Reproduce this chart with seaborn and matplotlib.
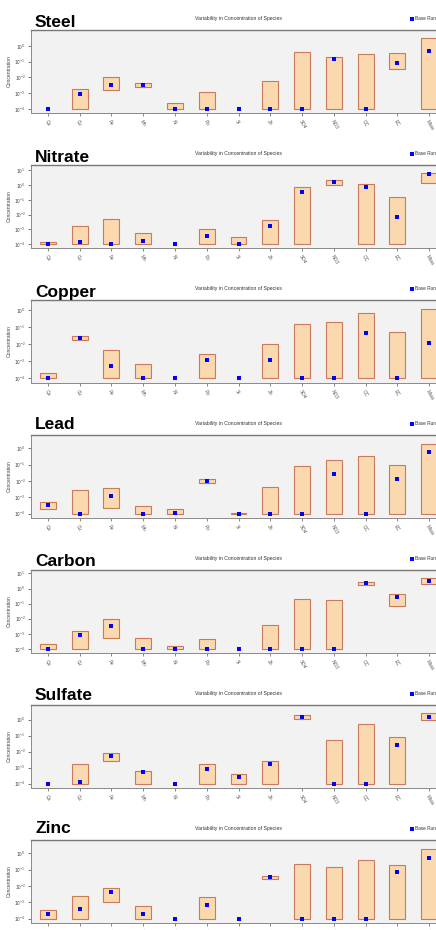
import numpy as np
import pandas as pd
import matplotlib
matplotlib.use("Agg")
import matplotlib.pyplot as plt
from matplotlib.lines import Line2D
import seaborn as sns

species = ["Ca", "Cu", "Fe", "Mn", "Ni", "Pb", "Si", "Zn", "SO4", "NO3", "OC", "EC", "Mass"]
sources = ["Steel", "Nitrate", "Copper", "Lead", "Carbon", "Sulfate", "Zinc"]

steel_min  = [1e-4, 1e-4, 1.6e-3, 2.6e-3, 1e-4, 1e-4, 1e-4, 1e-4, 1e-4, 1e-4, 1e-4, 3.3e-2, 1e-4]
steel_max  = [1e-4, 1.9e-3, 1.0e-2, 4.4e-3, 2.5e-4, 1.15e-3, 1e-4, 6.0e-3, 0.40, 0.20, 0.30, 0.38, 3.1]
steel_base = [1e-4, 9.3e-4, 3.2e-3, 3.2e-3, 1e-4, 1e-4, 1e-4, 1e-4, 1e-4, 0.145, 1e-4, 0.079, 0.50]

nitrate_min  = [1e-4, 1e-4, 1e-4, 1e-4, 1e-4, 1e-4, 1e-4, 1e-4, 1e-4, 1.1, 1e-4, 1e-4, 1.35]
nitrate_max  = [1.3e-4, 1.7e-3, 4.9e-3, 5.9e-4, 1e-4, 1.07e-3, 2.9e-4, 4.2e-3, 0.79, 2.2, 1.23, 0.148, 6.9]
nitrate_base = [1e-4, 1.3e-4, 1e-4, 1.6e-4, 1e-4, 3.5e-4, 1e-4, 1.7e-3, 0.36, 1.6, 0.76, 7.4e-3, 5.6]

copper_min  = [1e-4, 1.74e-2, 1e-4, 1e-4, 1e-4, 1e-4, 1e-4, 1e-4, 1e-4, 1e-4, 1e-4, 1e-4, 1e-4]
copper_max  = [2.0e-4, 3.0e-2, 4.8e-3, 7.1e-4, 1e-4, 2.7e-3, 1e-4, 1.07e-2, 0.155, 0.20, 0.62, 0.051, 1.1]
copper_base = [1e-4, 2.2e-2, 5.5e-4, 1e-4, 1e-4, 1.26e-3, 1e-4, 1.26e-3, 1e-4, 1e-4, 0.043, 1e-4, 0.0112]

lead_min  = [1.8e-4, 1e-4, 2.3e-4, 1e-4, 1e-4, 7.9e-3, 1e-4, 1e-4, 1e-4, 1e-4, 1e-4, 1e-4, 1e-4]
lead_max  = [5.5e-4, 2.7e-3, 3.7e-3, 2.8e-4, 1.9e-4, 1.32e-2, 1.12e-4, 4.0e-3, 0.083, 0.186, 0.36, 0.102, 1.95]
lead_base = [3.5e-4, 1e-4, 1.2e-3, 1e-4, 1.15e-4, 9.5e-3, 1e-4, 1e-4, 1e-4, 0.026, 1e-4, 0.0132, 0.60]

carbon_min  = [1e-4, 1e-4, 5.4e-4, 1e-4, 1e-4, 1e-4, 1e-4, 1e-4, 1e-4, 1e-4, 1.74, 0.071, 2.0]
carbon_max  = [2.1e-4, 1.6e-3, 1.0e-2, 5.4e-4, 1.6e-4, 4.6e-4, 1e-4, 3.9e-3, 0.20, 0.18, 2.75, 0.44, 5.0]
carbon_base = [1e-4, 8.5e-4, 3.3e-3, 1e-4, 1e-4, 1e-4, 1e-4, 1e-4, 1e-4, 1e-4, 2.3, 0.28, 3.2]

sulfate_min  = [1e-4, 1e-4, 2.5e-3, 1e-4, 1e-4, 1e-4, 1e-4, 1e-4, 1.15, 1e-4, 1e-4, 1e-4, 1.0]
sulfate_max  = [1e-4, 1.6e-3, 7.9e-3, 6.3e-4, 1e-4, 1.6e-3, 4.0e-4, 2.75e-3, 1.8, 0.056, 0.56, 0.079, 2.4]
sulfate_base = [1e-4, 1.35e-4, 5.6e-3, 5.0e-4, 1e-4, 8.7e-4, 2.75e-4, 1.6e-3, 1.55, 1e-4, 1e-4, 0.0275, 1.55]

zinc_min  = [1e-4, 1e-4, 1.0e-3, 1e-4, 1e-4, 1e-4, 1e-4, 0.0257, 1e-4, 1e-4, 1e-4, 1e-4, 1e-4]
zinc_max  = [3.5e-4, 2.5e-3, 7.2e-3, 5.6e-4, 1e-4, 2.0e-3, 1e-4, 0.0437, 0.234, 0.141, 0.38, 0.204, 1.95]
zinc_base = [2.0e-4, 4.1e-4, 4.0e-3, 2.0e-4, 1e-4, 7.2e-4, 1e-4, 0.034, 1e-4, 1e-4, 1e-4, 0.076, 0.55]

panels = [
    (steel_min, steel_max, steel_base),
    (nitrate_min, nitrate_max, nitrate_base),
    (copper_min, copper_max, copper_base),
    (lead_min, lead_max, lead_base),
    (carbon_min, carbon_max, carbon_base),
    (sulfate_min, sulfate_max, sulfate_base),
    (zinc_min, zinc_max, zinc_base),
]

sns.set_theme(style="white")
plt.rcParams["font.family"] = ["Liberation Sans", "DejaVu Sans"]
plt.rcParams["mathtext.fontset"] = "dejavusans"

W, H = 436, 930
fig = plt.figure(figsize=(W / 100, H / 100), dpi=100)

bar_face = "#fad9ae"
bar_edge = "#c97a5c"
mark_color = "#0000ff"
ax_left, ax_right = 31, 446
ax_h = 83
period = 135
title_base = [26.7, 26.7, 26.7, 24.3, 25.5, 25.5, 23.3]

for i, (name, (lo, hi, base)) in enumerate(zip(sources, panels)):
    top_px = 30 + period * i
    ax = fig.add_axes([ax_left / W, 1 - (top_px + ax_h) / H,
                       (ax_right - ax_left) / W, ax_h / H])
    ax.set_facecolor("#f2f2f2")
    ax.set_yscale("log")

    df = pd.DataFrame({"species": species, "low": lo, "high": hi, "base": base})
    df["span"] = df["high"] - df["low"]

    sns.barplot(data=df, x="species", y="span", order=species, bottom=df["low"].values,
                width=0.5, color=bar_face, edgecolor=bar_edge, linewidth=0.8,
                saturation=1, ax=ax)
    for p in ax.patches:
        if p.get_height() <= 0:
            p.set_visible(False)

    sns.stripplot(data=df, x="species", y="base", order=species, jitter=False,
                  marker="s", size=3.0, color=mark_color, linewidth=0, ax=ax,
                  zorder=5)

    ymax = np.log10(max(hi)) + 0.53
    ymin = -4.27
    ax.set_ylim(10 ** ymin, 10 ** ymax)
    ax.set_xlim(-0.53, len(species) - 0.47)
    top_tick = int(np.floor(ymax - 0.12))
    ax.set_yticks([10.0 ** k for k in range(-4, top_tick + 1)])
    ax.yaxis.set_minor_locator(matplotlib.ticker.NullLocator())
    ax.tick_params(axis="y", labelsize=3.4, length=2.5, width=0.5,
                   colors="#444444", pad=1.5, left=True)
    ax.tick_params(axis="x", labelsize=3.4, length=2.5, width=0.5,
                   colors="#555555", pad=1.5, bottom=True)
    for lab in ax.get_xticklabels():
        lab.set_rotation(-60)
        lab.set_ha("left")
        lab.set_va("top")
        lab.set_rotation_mode("anchor")
    ax.set_xlabel("")
    ax.set_ylabel("Concentration", fontsize=3.6, color="#444444", labelpad=2)
    for s in ax.spines.values():
        s.set_color("#8a8a8a")
        s.set_linewidth(0.7)
    ax.spines["top"].set_linewidth(1.0)
    ax.spines["top"].set_color("#777777")

    ax.set_title("Variability in Concentration of Species", fontsize=3.7,
                 color="#333333", pad=7)
    handle = Line2D([], [], linestyle="none", marker="s", markersize=3.0,
                    markerfacecolor=mark_color, markeredgewidth=0)
    leg = ax.legend([handle], ["Base Run"], loc="center left",
                    bbox_to_anchor=(0.915, 1.135), frameon=False,
                    fontsize=3.4, handlelength=0.6, handletextpad=0.4,
                    borderaxespad=0, borderpad=0)
    for t in leg.get_texts():
        t.set_color("#333333")

    fig.text(35 / W, 1 - (period * i + title_base[i]) / H, name,
             fontsize=12.5, fontweight="bold", color="black",
             ha="left", va="baseline")

fig.savefig("out.png", dpi=100)
